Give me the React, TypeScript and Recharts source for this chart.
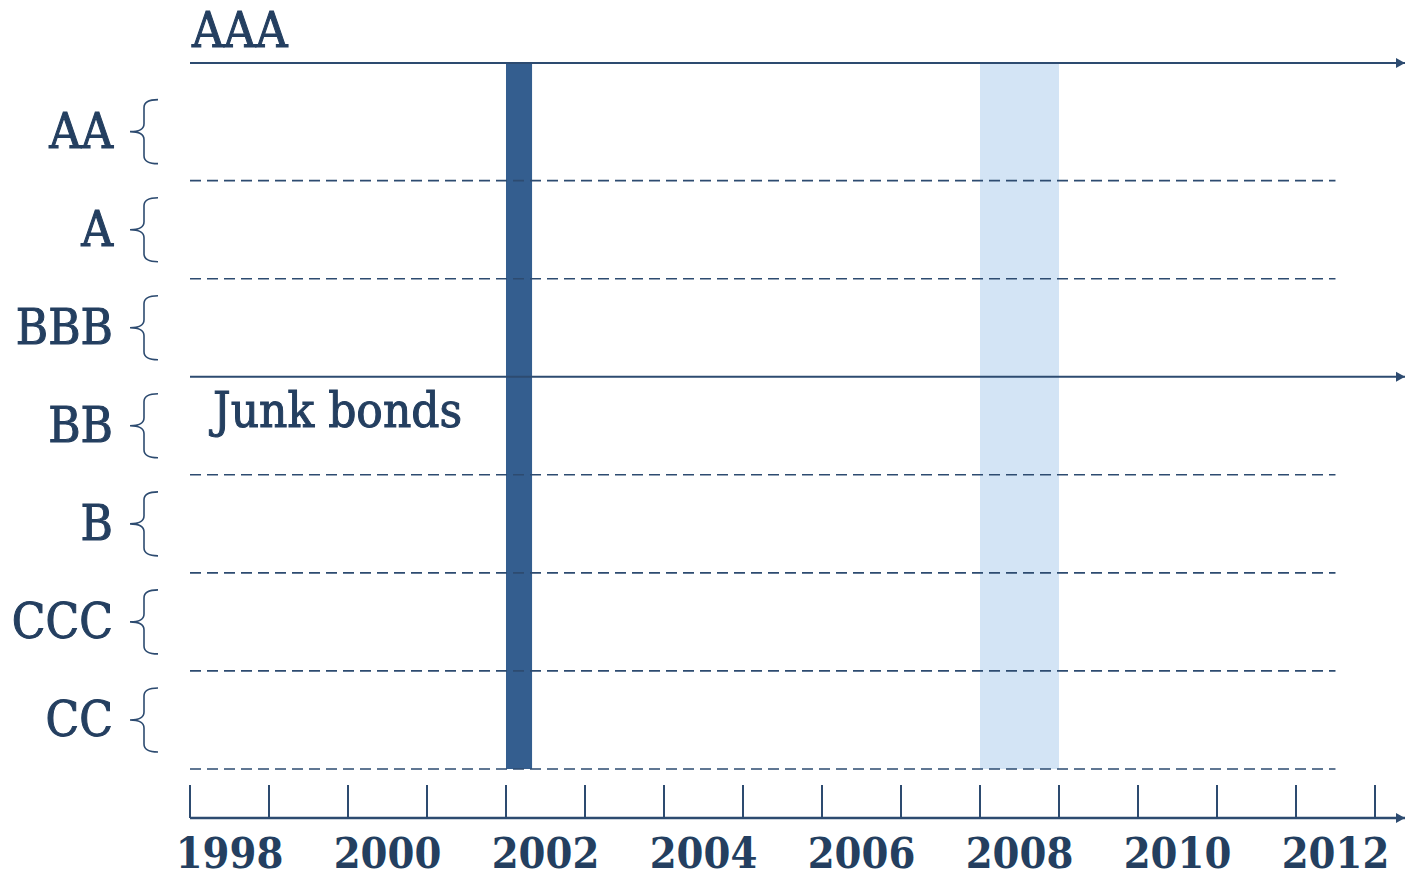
import React from 'react';
import { ComposedChart, XAxis, YAxis, ReferenceLine, ReferenceArea, Line } from 'recharts';

// rating grades, lowest first (one band per grade)
const ratings = ['CC', 'CCC', 'B', 'BB', 'BBB', 'A', 'AA'];
const ratingLevels = [0.5, 1.5, 2.5, 3.5, 4.5, 5.5, 6.5];
const bandEdges = [0, 1, 2, 3, 5, 6];
const investmentCut = 4;
const aaaLevel = 7.2;

// years on the time axis
const years = [1998, 1999, 2000, 2001, 2002, 2003, 2004, 2005, 2006, 2007, 2008, 2009, 2010, 2011, 2012, 2013];
const labelYears = [1998, 2000, 2002, 2004, 2006, 2008, 2010, 2012];

// shaded periods
const dotcomStart = 2002;
const dotcomEnd = 2002.33;
const crisisStart = 2008;
const crisisEnd = 2009;
const dashEnd = 2012.5;

const INK = '#243f60';
const LINE = '#2d4b70';
const FONT = "'DejaVu Serif Condensed', 'DejaVu Serif', serif";

const textStyle = {
  fill: INK,
  fontFamily: FONT,
  fontSize: 49,
  stroke: INK,
  strokeWidth: 1,
  fontStretch: 'condensed',
} as React.CSSProperties;

const chartData = years.map((year) => ({ year, level: null }));

const Arrow = ({ viewBox }: any) => {
  const { x, y, width } = viewBox;
  const ex = x + width;
  return <polygon points={`${ex - 9},${y - 5} ${ex},${y} ${ex - 9},${y + 5}`} fill={LINE} />;
};

const YearTick = ({ x, y, payload }: any) => {
  const v = payload.value;
  return (
    <g>
      <line x1={x} x2={x} y1={y} y2={y - 33} stroke={LINE} strokeWidth={2} />
      {labelYears.includes(v) && (
        <text x={x + 39.5} y={y + 50} textAnchor="middle" fill={INK} fontSize={43} fontWeight={700} fontFamily={FONT} style={{ fontStretch: 'condensed' }}>
          {v}
        </text>
      )}
    </g>
  );
};

const RatingTick = ({ x, y, payload }: any) => {
  const label = ratings[ratingLevels.indexOf(payload.value)];
  const bx = x - 46;
  return (
    <g>
      <text x={x - 77} y={y + 16} textAnchor="end" style={textStyle}>
        {label}
      </text>
      <path
        d={`M ${bx + 14} ${y - 32} Q ${bx} ${y - 32} ${bx} ${y - 24} L ${bx} ${y - 8} Q ${bx} ${y} ${bx - 14} ${y} Q ${bx} ${y} ${bx} ${y + 8} L ${bx} ${y + 24} Q ${bx} ${y + 32} ${bx + 14} ${y + 32}`}
        fill="none"
        stroke={LINE}
        strokeWidth={1.6}
      />
    </g>
  );
};

export default function App() {
  return (
    <div style={{ position: 'absolute', left: 0, top: 0, background: '#fff' }}>
      <ComposedChart width={1405} height={878} data={chartData} margin={{ top: 63, right: 0, left: 0, bottom: 0 }}>
        <XAxis
          dataKey="year"
          type="number"
          domain={[1998, 2013.38]}
          allowDataOverflow
          ticks={years}
          interval={0}
          tick={<YearTick />}
          tickLine={false}
          axisLine={false}
          tickSize={0}
          tickMargin={0}
          height={60}
        />
        <YAxis
          type="number"
          domain={[-0.5, aaaLevel]}
          allowDataOverflow
          ticks={ratingLevels}
          interval={0}
          tick={<RatingTick />}
          tickLine={false}
          axisLine={false}
          tickSize={0}
          tickMargin={0}
          width={190}
        />
        <ReferenceArea x1={crisisStart} x2={crisisEnd} y1={0} y2={aaaLevel} fill="#d3e4f5" fillOpacity={1} stroke="none" />
        {bandEdges.map((edge) => (
          <ReferenceLine
            key={edge}
            segment={[{ x: 1998, y: edge }, { x: dashEnd, y: edge }]}
            stroke={LINE}
            strokeWidth={1.6}
            strokeDasharray="11 6"
          />
        ))}
        <ReferenceArea x1={dotcomStart} x2={dotcomEnd} y1={0} y2={aaaLevel} fill="#345e8f" fillOpacity={1} stroke="none" />
        <ReferenceLine
          y={aaaLevel}
          stroke={LINE}
          strokeWidth={2.2}
          label={(props: any) => (
            <g>
              <Arrow viewBox={props.viewBox} />
              <text x={props.viewBox.x + 2} y={props.viewBox.y - 16} style={textStyle}>
                AAA
              </text>
            </g>
          )}
        />
        <ReferenceLine
          y={investmentCut}
          stroke={LINE}
          strokeWidth={2.2}
          label={(props: any) => (
            <g>
              <Arrow viewBox={props.viewBox} />
              <text x={props.viewBox.x + 23} y={props.viewBox.y + 50} style={textStyle}>
                Junk bonds
              </text>
            </g>
          )}
        />
        <ReferenceLine y={-0.5} stroke={LINE} strokeWidth={2.5} label={(props: any) => <Arrow viewBox={props.viewBox} />} />
        <Line dataKey="level" stroke="none" dot={false} isAnimationActive={false} />
      </ComposedChart>
    </div>
  );
}
